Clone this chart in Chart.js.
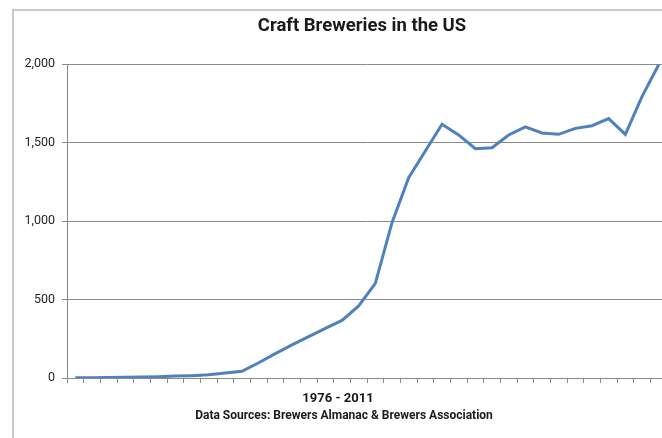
<!DOCTYPE html>
<html>
<head>
<meta charset="utf-8">
<script src="https://cdn.jsdelivr.net/npm/chart.js@4"></script>
<style>
  html, body { margin: 0; padding: 0; background: #fff; overflow: hidden; }
  #frame {
    position: absolute; left: 12px; top: 9px; width: 700px; height: 460px;
    border-left: 2px solid #c9c9c9; border-top: 2px solid #c9c9c9;
  }
  #wrap { position: absolute; left: 0; top: 0; width: 680px; height: 438px; }
</style>
</head>
<body>
<div id="frame"></div>
<div id="wrap"><canvas id="chartBreweries" width="680" height="438"></canvas></div>
<script>
const anios = [];
for (let y = 1976; y <= 2011; y++) anios.push(String(y));

const cervecerias = [
    1, 2, 3, 4, 6, 8, 12, 15, 20, 32,
    43, 97, 155, 211, 264, 316, 367, 459, 603, 989,
    1276, 1446, 1616, 1548, 1461, 1467, 1548, 1599, 1561, 1552,
    1590, 1607, 1652, 1552, 1792, 1995
];

const y_ticks = [0, 500, 1000, 1500, 2000];

const titulo    = 'Craft Breweries in the US';
const eje_x     = '1976 - 2011';
const fuente    = 'Data Sources: Brewers Almanac & Brewers Association';

const FONT = 'Roboto, "Liberation Sans", sans-serif';

const chartEl = document.getElementById('chartBreweries');
const chart = new Chart(chartEl, {
    type: 'line',
    data: {
        labels: anios,
        datasets: [{
            label: 'Craft breweries',
            data: cervecerias,
            borderColor: '#4f81bd',
            borderWidth: 3,
            pointRadius: 0,
            tension: 0,
            fill: false,
        }]
    },
    options: {
        responsive: false,
        animation: false,
        layout: { padding: { top: 64, left: 0, right: 13, bottom: 0 } },
        plugins: {
            legend: { display: false },
            tooltip: { enabled: false },
        },
        scales: {
            y: {
                min: 0, max: 2000,
                afterBuildTicks: s => { s.ticks = y_ticks.map(v => ({ value: v })); },
                afterFit: s => { s.width = 67; },
                ticks: {
                    padding: 7,
                    color: '#262626',
                    font: { family: FONT, size: 12.5 },
                    callback: v => v.toLocaleString('en-US'),
                },
                grid: { color: '#8a8a8a', lineWidth: 1, tickLength: 5 },
                border: { color: '#8a8a8a', width: 1 },
            },
            x: {
                offset: true,
                afterFit: s => { s.height = 60; },
                ticks: { display: false },
                grid: { offset: true, drawOnChartArea: false, drawTicks: true, tickLength: 5, color: '#8a8a8a' },
                border: { color: '#8a8a8a', width: 1 },
            }
        }
    },
    plugins: [{
        id: 'textos',
        afterDraw(chart) {
            const { ctx } = chart;
            ctx.save();
            ctx.fillStyle = '#1a1a1a';
            ctx.textAlign = 'center';
            ctx.textBaseline = 'alphabetic';
            ctx.font = 'bold 18.5px ' + FONT;
            ctx.fillText(titulo, 362, 31);
            ctx.font = 'bold 13px ' + FONT;
            ctx.fillText(eje_x, 338, 402);
            ctx.font = 'bold 12px ' + FONT;
            ctx.fillText(fuente, 344, 419);
            ctx.restore();
        }
    }]
});
</script>
</body>
</html>
